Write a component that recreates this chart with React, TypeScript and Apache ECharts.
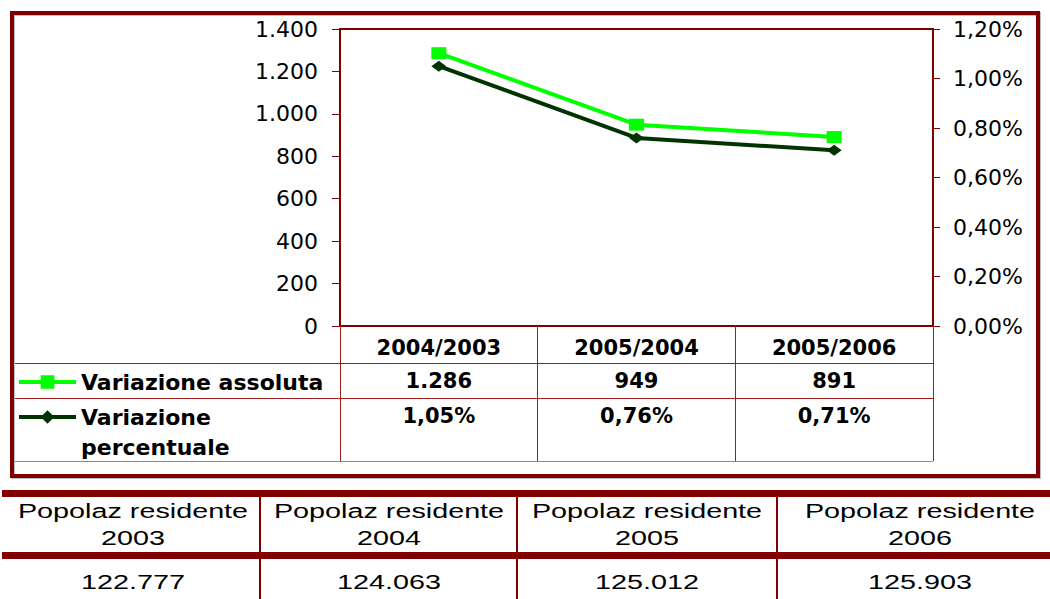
import React, { useEffect, useRef } from 'react';
import * as echarts from 'echarts';

const categories = ['2004/2003', '2005/2004', '2005/2006'];
const absChange = [1286, 949, 891];
const pctChange = [1.05, 0.76, 0.71];
const popLabel = 'Popolaz residente';
const popYears = ['2003', '2004', '2005', '2006'];
const popValues = [122777, 124063, 125012, 125903];

const RED = '#800000';
const THIN = '#9b1c1c';
const GREEN = '#00ff00';
const DARK = '#003300';
const FONT = 'DejaVu Sans';

const fmtInt = (n: number) => String(Math.round(n)).replace(/\B(?=(\d{3})+(?!\d))/g, '.');
const fmtPct = (v: number) => v.toFixed(2).replace('.', ',') + '%';

export default function App() {
  const ref = useRef<HTMLDivElement>(null);
  useEffect(() => {
    if (!ref.current) return;
    const chart = echarts.init(ref.current, undefined, { renderer: 'svg' });
    const colCenters = [133, 389, 647, 920];
    const bottomTexts: any[] = [];
    popYears.forEach((y, i) => {
      bottomTexts.push({
        type: 'text', x: colCenters[i], y: 524, scaleX: 1.37,
        style: { text: popLabel + '\n' + y, textAlign: 'center', textVerticalAlign: 'middle', fontFamily: 'Liberation Sans', fontSize: 21, lineHeight: 28, fill: '#000' },
      });
      bottomTexts.push({
        type: 'text', x: colCenters[i], y: 581, scaleX: 1.37,
        style: { text: fmtInt(popValues[i]), textAlign: 'center', textVerticalAlign: 'middle', fontFamily: 'Liberation Sans', fontSize: 21, fill: '#000' },
      });
    });
    const boldLabel = { fontFamily: FONT, fontWeight: 'bold', fontSize: 21, color: '#000', lineHeight: 22 };
    chart.setOption({
      animation: false,
      backgroundColor: '#fff',
      grid: { left: 340, top: 29, width: 593, height: 297, show: true, borderColor: RED, borderWidth: 2, containLabel: false },
      legend: [
        {
          data: ['Variazione assoluta'], left: 17, top: 370, padding: 0, itemWidth: 57, itemHeight: 17,
          selectedMode: false, lineStyle: { width: 4 },
          textStyle: { fontFamily: FONT, fontWeight: 'bold', fontSize: 22, color: '#000', lineHeight: 24 },
        },
        {
          data: ['Variazione percentuale'], left: 17, top: 372, padding: 0, itemWidth: 57, itemHeight: 17,
          selectedMode: false, lineStyle: { width: 4 },
          formatter: () => '\nVariazione\npercentuale',
          textStyle: { fontFamily: FONT, fontWeight: 'bold', fontSize: 22, color: '#000', lineHeight: 30 },
        },
      ],
      xAxis: [
        {
          type: 'category', data: categories, position: 'bottom', boundaryGap: true,
          axisLine: { show: true, lineStyle: { color: RED, width: 2 } },
          axisTick: { show: true, interval: 0, length: 135, inside: false, lineStyle: { color: THIN, width: 1 } },
          axisLabel: { ...boldLabel, margin: 11, interval: 0 },
        },
        {
          type: 'category', data: absChange.map(fmtInt), position: 'bottom', offset: 33,
          axisLine: { show: false }, axisTick: { show: false },
          axisLabel: { ...boldLabel, margin: 11, interval: 0 },
        },
        {
          type: 'category', data: pctChange.map(fmtPct), position: 'bottom', offset: 68,
          axisLine: { show: false }, axisTick: { show: false },
          axisLabel: { ...boldLabel, margin: 11, interval: 0 },
        },
      ],
      yAxis: [
        {
          type: 'value', min: 0, max: 1400, interval: 200, position: 'left',
          axisLine: { show: true, lineStyle: { color: RED, width: 2 } },
          axisTick: { show: true, length: 8, lineStyle: { color: RED, width: 1 } },
          splitLine: { show: false },
          axisLabel: { fontFamily: FONT, fontSize: 22, color: '#000', margin: 22, formatter: (v: number) => fmtInt(v) },
        },
        {
          type: 'value', min: 0, max: 1.2, interval: 0.2, position: 'right',
          axisLine: { show: true, lineStyle: { color: RED, width: 2 } },
          axisTick: { show: true, length: 7, lineStyle: { color: RED, width: 1 } },
          splitLine: { show: false },
          axisLabel: { fontFamily: FONT, fontSize: 22, color: '#000', margin: 20, formatter: (v: number) => fmtPct(v) },
        },
      ],
      series: [
        {
          name: 'Variazione percentuale', type: 'line', xAxisIndex: 0, yAxisIndex: 1, data: pctChange,
          symbol: 'diamond', symbolSize: [15, 11], color: DARK,
          lineStyle: { color: DARK, width: 4 }, itemStyle: { color: DARK },
        },
        {
          name: 'Variazione assoluta', type: 'line', xAxisIndex: 0, yAxisIndex: 0, data: absChange,
          symbol: 'rect', symbolSize: [15, 12], color: GREEN,
          lineStyle: { color: GREEN, width: 4 }, itemStyle: { color: GREEN },
        },
      ],
      graphic: [
        { type: 'rect', shape: { x: 12, y: 13, width: 1026, height: 463 }, style: { fill: 'none', stroke: RED, lineWidth: 4, shadowColor: 'rgba(0,0,0,0.25)', shadowOffsetX: 1, shadowOffsetY: 1, shadowBlur: 1 }, z: 10 },
        { type: 'line', shape: { x1: 15, y1: 363.5, x2: 933, y2: 363.5 }, style: { stroke: THIN, lineWidth: 1 } },
        { type: 'line', shape: { x1: 15, y1: 398.5, x2: 933, y2: 398.5 }, style: { stroke: THIN, lineWidth: 1 } },
        { type: 'line', shape: { x1: 15, y1: 461.5, x2: 933, y2: 461.5 }, style: { stroke: '#c07070', lineWidth: 1 } },
        { type: 'rect', shape: { x: 2, y: 490, width: 1048, height: 7 }, style: { fill: RED } },
        { type: 'rect', shape: { x: 2, y: 552, width: 1048, height: 7 }, style: { fill: RED } },
        { type: 'rect', shape: { x: 259, y: 497, width: 2, height: 102 }, style: { fill: RED } },
        { type: 'rect', shape: { x: 516, y: 497, width: 2, height: 102 }, style: { fill: RED } },
        { type: 'rect', shape: { x: 776, y: 497, width: 2, height: 102 }, style: { fill: RED } },
        ...bottomTexts,
      ],
    });
    return () => chart.dispose();
  }, []);
  return <div ref={ref} style={{ position: 'fixed', left: 0, top: 0, width: 1050, height: 599 }} />;
}
